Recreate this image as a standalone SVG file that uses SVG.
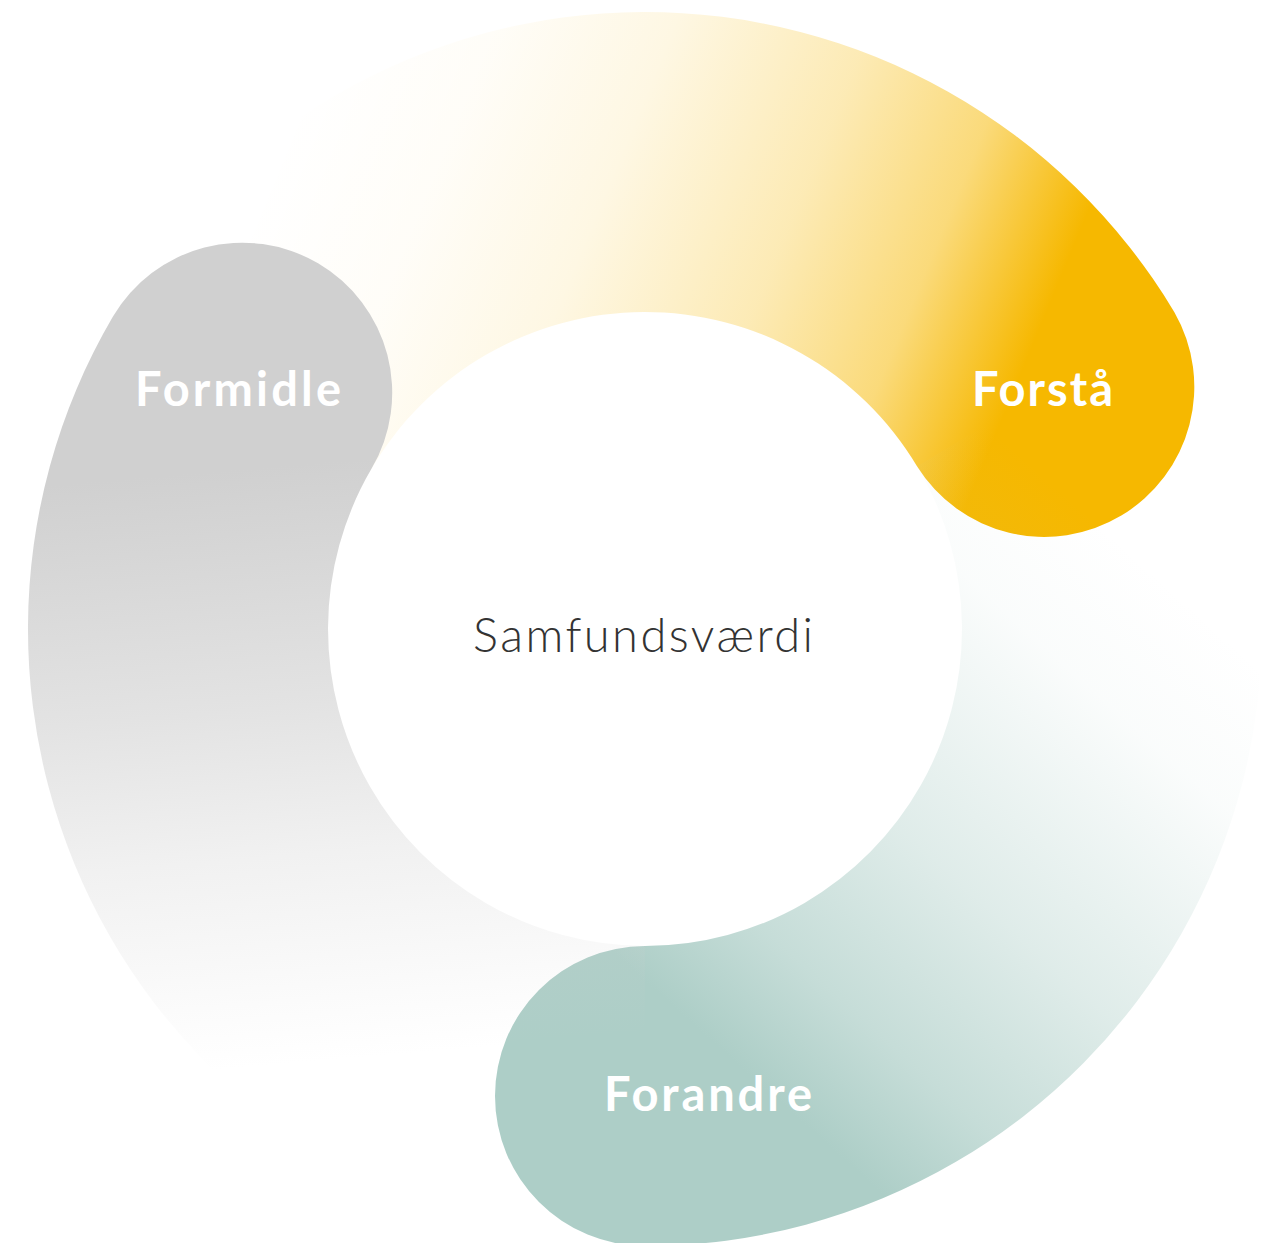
<svg xmlns="http://www.w3.org/2000/svg" width="1271" height="1243" viewBox="0 0 1271 1243">
  <style>
    .label { font-family: Lato, "Liberation Sans", sans-serif; font-weight: 700; font-size: 47px; fill: #ffffff; text-anchor: middle; }
    .center { font-family: Lato, "Liberation Sans", sans-serif; font-weight: 300; font-size: 47px; fill: #333333; text-anchor: middle; }
  </style>
  <defs>
    <linearGradient id="gYellow" gradientUnits="userSpaceOnUse" x1="304" y1="85" x2="1040" y2="390">
      <stop offset="0" stop-color="#F6B800" stop-opacity="0"/>
      <stop offset="0.2" stop-color="#F6B800" stop-opacity="0.03"/>
      <stop offset="0.4" stop-color="#F6B800" stop-opacity="0.11"/>
      <stop offset="0.63" stop-color="#F6B800" stop-opacity="0.29"/>
      <stop offset="0.81" stop-color="#F6B800" stop-opacity="0.52"/>
      <stop offset="0.97" stop-color="#F6B800" stop-opacity="1"/>
    </linearGradient>
    <linearGradient id="gTeal" gradientUnits="userSpaceOnUse" x1="1230" y1="640" x2="800" y2="1120">
      <stop offset="0" stop-color="#ADCEC7" stop-opacity="0"/>
      <stop offset="0.2" stop-color="#ADCEC7" stop-opacity="0.06"/>
      <stop offset="0.56" stop-color="#ADCEC7" stop-opacity="0.39"/>
      <stop offset="0.82" stop-color="#ADCEC7" stop-opacity="0.7"/>
      <stop offset="1" stop-color="#ADCEC7" stop-opacity="1"/>
    </linearGradient>
    <linearGradient id="gGray" gradientUnits="userSpaceOnUse" x1="230" y1="470" x2="280" y2="1065">
      <stop offset="0" stop-color="#D0D0D0" stop-opacity="1"/>
      <stop offset="0.4" stop-color="#D0D0D0" stop-opacity="0.6"/>
      <stop offset="0.65" stop-color="#D0D0D0" stop-opacity="0.3"/>
      <stop offset="0.9" stop-color="#D0D0D0" stop-opacity="0.08"/>
      <stop offset="1" stop-color="#D0D0D0" stop-opacity="0"/>
    </linearGradient>
  </defs>
  <rect width="1271" height="1243" fill="#ffffff"/>
  <g id="connectors">
    <path id="arc-yellow" fill="url(#gYellow)" d="M 112.8 316.8 A 617 617 0 0 1 1174.4 312.2 A 150 150 0 0 1 917 466.2 A 317 317 0 0 0 371.6 468.6 Z"/>
    <path id="arc-teal" fill="url(#gTeal)" d="M 1174.4 312.2 A 617 617 0 0 1 645 1246 A 150 150 0 0 1 645 946 A 317 317 0 0 0 917 466.2 Z"/>
    <path id="arc-gray" fill="url(#gGray)" d="M 645 1246 A 617 617 0 0 1 112.8 316.8 A 150 150 0 0 1 371.6 468.6 A 317 317 0 0 0 645 946 Z"/>
  </g>
  <g id="node-formidle">
    <text class="label" x="238" y="406" textLength="206">Formidle</text>
  </g>
  <g id="node-forsta">
    <text class="label" x="1042.5" y="406" textLength="141">Forstå</text>
  </g>
  <g id="node-forandre">
    <text class="label" x="708" y="1111" textLength="208">Forandre</text>
  </g>
  <g id="node-center">
    <text class="center" x="643" y="652" textLength="340">Samfundsværdi</text>
  </g>
</svg>
